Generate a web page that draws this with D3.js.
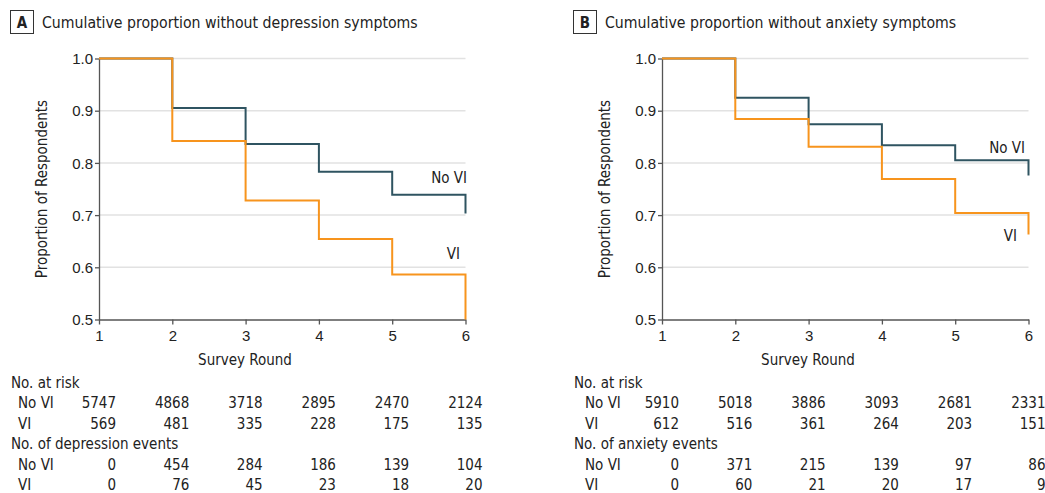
<!DOCTYPE html>
<html>
<head>
<meta charset="utf-8">
<script src="https://cdn.jsdelivr.net/npm/d3@7"></script>
<style>
  body { margin: 0; background: #fff; }
  svg { display: block; font-family: "DejaVu Sans Condensed", "Liberation Sans", sans-serif; }
</style>
</head>
<body>
<svg id="chart" width="1045" height="493"></svg>
<script>
// survey rounds and axis ticks
var rounds = [1, 2, 3, 4, 5, 6];
var yTicks = [0.5, 0.6, 0.7, 0.8, 0.9, 1.0];

// A: cumulative proportion without depression symptoms
var depNoVI = [1.0, 0.905, 0.836, 0.783, 0.739, 0.703];
var depVI = [1.0, 0.842, 0.728, 0.654, 0.586, 0.500];
var depRiskNoVI = [5747, 4868, 3718, 2895, 2470, 2124];
var depRiskVI = [569, 481, 335, 228, 175, 135];
var depEventsNoVI = [0, 454, 284, 186, 139, 104];
var depEventsVI = [0, 76, 45, 23, 18, 20];

// B: cumulative proportion without anxiety symptoms
var anxNoVI = [1.0, 0.925, 0.874, 0.834, 0.805, 0.776];
var anxVI = [1.0, 0.884, 0.831, 0.769, 0.704, 0.663];
var anxRiskNoVI = [5910, 5018, 3886, 3093, 2681, 2331];
var anxRiskVI = [612, 516, 361, 264, 203, 151];
var anxEventsNoVI = [0, 371, 215, 139, 97, 86];
var anxEventsVI = [0, 60, 21, 20, 17, 9];

var colNoVI = '#2f5461';
var colVI = '#f7941d';
var textCol = '#222';

var svg = d3.select('#chart');

/**
 * Draws one panel (letter box, title, step curves, risk table)
 */
var drawPanel = function(opts) {

	var g = svg.append('g').attr('transform', 'translate(' + opts.left + ',0)');

	var x = d3.scaleLinear().domain([1, 6]).range([99, 465.5]);
	var y = d3.scaleLinear().domain([0.5, 1.0]).range([319.5, 58.5]);

	// letter box + title
	g.append('rect').attr('x', 10.5).attr('y', 10.5).attr('width', 23).attr('height', 23)
		.attr('fill', 'none').attr('stroke', '#333').attr('stroke-width', 1);
	g.append('text').attr('x', 22).attr('y', 28).attr('text-anchor', 'middle')
		.attr('font-size', '15px').attr('font-weight', 'bold').attr('fill', textCol).text(opts.letter);
	g.append('text').attr('x', 42).attr('y', 28)
		.attr('font-size', '15.7px').attr('fill', textCol).text(opts.title);

	// gridlines
	g.selectAll('.grid').data(yTicks.filter(function(d) {return d > 0.5;})).enter().append('line')
		.attr('class', 'grid')
		.attr('x1', x(1)).attr('x2', x(6))
		.attr('y1', function(d) {return y(d);}).attr('y2', function(d) {return y(d);})
		.attr('stroke', '#e2e2e2').attr('stroke-width', 1.5);

	// axes
	var yAxis = d3.axisLeft(y).tickValues(yTicks).tickSize(4).tickSizeOuter(0).tickFormat(d3.format('.1f'));
	var xAxis = d3.axisBottom(x).tickValues(rounds).tickSize(5).tickSizeOuter(0).tickFormat(d3.format('d'));

	var ya = g.append('g').attr('transform', 'translate(' + x(1) + ',0)').call(yAxis);
	var xa = g.append('g').attr('transform', 'translate(0,' + y(0.5) + ')').call(xAxis);

	[ya, xa].forEach(function(a) {
		a.select('.domain').attr('stroke', '#555').attr('stroke-width', 1.3);
		a.selectAll('.tick line').attr('stroke', '#555').attr('stroke-width', 1.3);
		a.selectAll('.tick text').attr('fill', textCol).attr('font-size', '15px').attr('font-family', null);
	});
	ya.selectAll('.tick text').attr('x', -6).attr('dy', '0.35em');
	xa.selectAll('.tick text').attr('y', 11).attr('dy', '0.71em');

	// axis titles
	g.append('text').attr('x', 245).attr('y', 365).attr('text-anchor', 'middle')
		.attr('font-size', '15px').attr('fill', textCol).text('Survey Round');
	g.append('text').attr('transform', 'translate(47,189) rotate(-90)').attr('text-anchor', 'middle')
		.attr('font-size', '15px').attr('fill', textCol).text('Proportion of Respondents');

	// step curves
	var line = d3.line()
		.x(function(d, i) {return x(rounds[i]);})
		.y(function(d) {return y(d);})
		.curve(d3.curveStepAfter);

	g.append('path').attr('d', line(opts.noVI)).attr('fill', 'none')
		.attr('stroke', colNoVI).attr('stroke-width', 2);
	g.append('path').attr('d', line(opts.vi)).attr('fill', 'none')
		.attr('stroke', colVI).attr('stroke-width', 2);

	// curve labels
	g.append('text').attr('x', opts.noVILabel[0]).attr('y', opts.noVILabel[1]).attr('text-anchor', 'end')
		.attr('font-size', '15px').attr('fill', textCol).text('No VI');
	g.append('text').attr('x', opts.viLabel[0]).attr('y', opts.viLabel[1]).attr('text-anchor', 'end')
		.attr('font-size', '15px').attr('fill', textCol).text('VI');

	// risk table
	var rowY = [382.5, 403, 423.5, 444, 464.5, 485];
	var headers = [
		{text: 'No. at risk', y: rowY[0]},
		{text: opts.eventsTitle, y: rowY[3]}
	];
	g.selectAll('.hdr').data(headers).enter().append('text')
		.attr('class', 'hdr')
		.attr('x', 11).attr('y', function(d) {return d.y;}).attr('dy', '0.35em')
		.attr('font-size', '15px').attr('fill', textCol).text(function(d) {return d.text;});

	var rows = [
		{label: 'No VI', values: opts.riskNoVI, y: rowY[1]},
		{label: 'VI', values: opts.riskVI, y: rowY[2]},
		{label: 'No VI', values: opts.eventsNoVI, y: rowY[4]},
		{label: 'VI', values: opts.eventsVI, y: rowY[5]}
	];

	rows.forEach(function(r) {
		g.append('text').attr('x', opts.rowIndent).attr('y', r.y).attr('dy', '0.35em')
			.attr('font-size', '15px').attr('fill', textCol).text(r.label);
		g.selectAll(null).data(r.values).enter().append('text')
			.attr('x', function(d, i) {return x(rounds[i]) + 17;})
			.attr('y', r.y).attr('dy', '0.35em').attr('text-anchor', 'end')
			.attr('font-size', '15px').attr('fill', textCol)
			.text(function(d) {return d;});
	});
};

drawPanel({
	left: 0, letter: 'A', title: 'Cumulative proportion without depression symptoms',
	noVI: depNoVI, vi: depVI,
	riskNoVI: depRiskNoVI, riskVI: depRiskVI,
	eventsNoVI: depEventsNoVI, eventsVI: depEventsVI,
	eventsTitle: 'No. of depression events',
	noVILabel: [467, 183], viLabel: [460, 259], rowIndent: 18
});

drawPanel({
	left: 563, letter: 'B', title: 'Cumulative proportion without anxiety symptoms',
	noVI: anxNoVI, vi: anxVI,
	riskNoVI: anxRiskNoVI, riskVI: anxRiskVI,
	eventsNoVI: anxEventsNoVI, eventsVI: anxEventsVI,
	eventsTitle: 'No. of anxiety events',
	noVILabel: [462, 153], viLabel: [454, 241], rowIndent: 22
});
</script>
</body>
</html>
